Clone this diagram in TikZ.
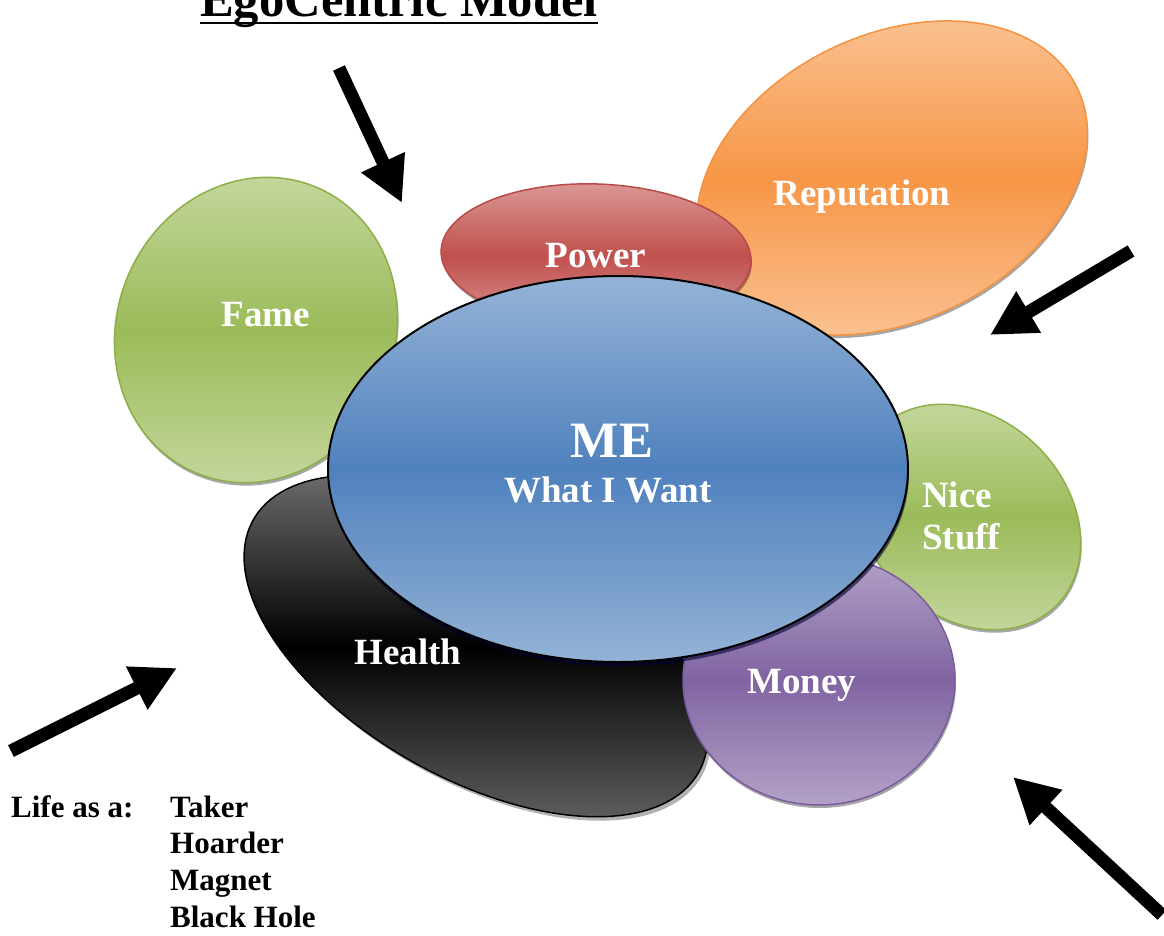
\documentclass[tikz,border=0pt]{standalone}
\usepackage{fontspec}
\setmainfont{Liberation Serif}
\usetikzlibrary{arrows.meta,shadows}
\definecolor{grnL}{HTML}{C3D69B}
\definecolor{grnM}{HTML}{9BBB59}
\definecolor{grnB}{HTML}{8DB046}
\definecolor{redL}{HTML}{DA9694}
\definecolor{redM}{HTML}{C0504D}
\definecolor{redB}{HTML}{B84A47}
\definecolor{orgL}{HTML}{FAC090}
\definecolor{orgM}{HTML}{F79646}
\definecolor{orgB}{HTML}{F59240}
\definecolor{bluL}{HTML}{95B3D7}
\definecolor{bluM}{HTML}{4F81BD}
\definecolor{purL}{HTML}{B3A2C7}
\definecolor{purM}{HTML}{8064A2}
\definecolor{purB}{HTML}{7A5C9E}
\definecolor{hlT}{HTML}{6A6A6A}
\definecolor{hlB}{HTML}{5C5C5C}
\tikzset{
  blob/.style={line width=1.5pt, drop shadow={shadow xshift=1pt, shadow yshift=-3pt, opacity=0.35, fill=black}},
  lbl/.style={text=white, font=\bfseries\fontsize{37}{42}\selectfont, inner sep=0pt, anchor=base},
  blk/.style={text=black, font=\bfseries\fontsize{31}{36}\selectfont, inner sep=0pt, anchor=base west},
  bigarrow/.style={line width=13pt, -{Triangle[length=45pt,width=45pt]}},
  ell/.style={domain=0:360, samples=144, variable=\t},
}
\begin{document}
\begin{tikzpicture}[x=1pt,y=-1pt]
\useasboundingbox (0,0) rectangle (1164,936);
\clip (0,0) rectangle (1164,936);

% title
\node[text=black, font=\bfseries\fontsize{50.6}{56}\selectfont, inner sep=0pt, anchor=base] (title) at (399,17) {EgoCentric Model};
\draw[line width=2.5pt] ([yshift=-6pt]title.base west) -- ([yshift=-6pt]title.base east);

% Reputation: centre (892,178), a=206, b=143, rot 26
\path[blob, draw=orgB, top color=orgL, bottom color=orgL, middle color=orgM]
  plot[ell] ({892+206*cos(\t)*cos(26)-143*sin(\t)*sin(26)},{178-(206*cos(\t)*sin(26)+143*sin(\t)*cos(26))}) -- cycle;

% Fame: centre (256,330), a=139, b=155, rot -23
\path[blob, draw=grnB, top color=grnL, bottom color=grnL, middle color=grnM]
  plot[ell] ({256+139*cos(\t)*cos(-23)-155*sin(\t)*sin(-23)},{330-(139*cos(\t)*sin(-23)+155*sin(\t)*cos(-23))}) -- cycle;

% Power: centre (596,256), a=155, b=72, rot -2
\path[blob, draw=redB, top color=redL, bottom color=redL, middle color=redM]
  plot[ell] ({596+155*cos(\t)*cos(-2)-72*sin(\t)*sin(-2)},{256-(155*cos(\t)*sin(-2)+72*sin(\t)*cos(-2))}) -- cycle;

% Nice Stuff: centre (968,517), a=125, b=99, rot -45
\path[blob, draw=grnB, top color=grnL, bottom color=grnL, middle color=grnM]
  plot[ell] ({968+125*cos(\t)*cos(-45)-99*sin(\t)*sin(-45)},{517-(125*cos(\t)*sin(-45)+99*sin(\t)*cos(-45))}) -- cycle;

% Health: centre (476,646), a=256, b=132, rot -29.6
\path[line width=1.5pt, draw=black, top color=hlT, bottom color=hlB, middle color=black,
  drop shadow={shadow xshift=3pt, shadow yshift=-4pt, opacity=0.3, fill=black}]
  plot[ell] ({476+256*cos(\t)*cos(-29.6)-132*sin(\t)*sin(-29.6)},{646-(256*cos(\t)*sin(-29.6)+132*sin(\t)*cos(-29.6))}) -- cycle;

% Money: centre (819,680), a=136, b=125
\path[blob, draw=purB, top color=purL, bottom color=purL, middle color=purM]
  plot[ell] ({819+136*cos(\t)},{680-125*sin(\t)}) -- cycle;

% ME
\path[line width=2pt, draw=black, top color=bluL, bottom color=bluL, middle color=bluM,
  drop shadow={shadow xshift=1pt, shadow yshift=-4pt, opacity=0.6, fill=black!80!blue}]
  (618,469) ellipse [x radius=290, y radius=193];

% labels
\node[lbl] (fame) at (266,326) {Fame};
\node[lbl] (power) at (596,267) {Power};
\node[lbl] (rep) at (862,206) {Reputation};
\node[lbl, font=\bfseries\fontsize{51}{56}\selectfont] (me) at (612,457) {ME};
\node[lbl] (want) at (608,502) {What I Want};
\node[lbl, anchor=base west] (nice) at (922,507) {Nice};
\node[lbl, anchor=base west] (stuff) at (922,549) {Stuff};
\node[lbl] (money) at (802,693) {Money};
\node[lbl] (health) at (408,664) {Health};

% life as a
\node[blk] (life) at (11,817) {Life as a:};
\node[blk] (taker) at (170,817) {Taker};
\node[blk] (hoarder) at (170,853) {Hoarder};
\node[blk] (magnet) at (170,890) {Magnet};
\node[blk] (hole) at (170,927) {Black Hole};

% arrows
\coordinate (a1s) at (339,68);  \coordinate (a1e) at (402,203);
\coordinate (a2s) at (1131,251); \coordinate (a2e) at (990,335);
\coordinate (a3s) at (11,751);  \coordinate (a3e) at (177,668);
\coordinate (a4s) at (1162,915); \coordinate (a4e) at (1013,777);
\draw[bigarrow] (a1s) -- (a1e);
\draw[bigarrow] (a2s) -- (a2e);
\draw[bigarrow] (a3s) -- (a3e);
\draw[bigarrow] (a4s) -- (a4e);
\end{tikzpicture}
\end{document}
